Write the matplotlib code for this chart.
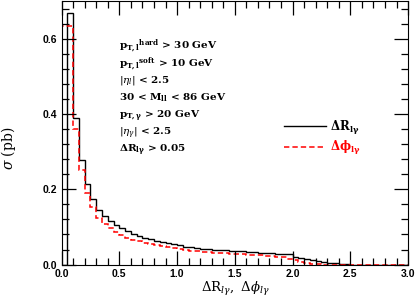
import numpy as np
import matplotlib
matplotlib.use("Agg")
import matplotlib.pyplot as plt
from matplotlib.ticker import MultipleLocator, FormatStrFormatter

bin_edges = np.round(np.arange(0.0, 3.0001, 0.05), 2)

dR_lgamma = [0.0, 0.669, 0.390, 0.278, 0.215, 0.175, 0.144, 0.128, 0.116, 0.106,
             0.097, 0.089, 0.082, 0.077, 0.072, 0.068, 0.064, 0.060, 0.057, 0.054,
             0.051, 0.048, 0.046, 0.044, 0.042, 0.041, 0.040, 0.039, 0.038, 0.037,
             0.036, 0.035, 0.034, 0.033, 0.032, 0.031, 0.030, 0.029, 0.028, 0.027,
             0.021, 0.018, 0.015, 0.012, 0.009, 0.007, 0.005, 0.003, 0.002, 0.001,
             0.0, 0.0, 0.0, 0.0, 0.0, 0.0, 0.0, 0.0, 0.0, 0.0]

dphi_lgamma = [0.634, 0.634, 0.361, 0.252, 0.190, 0.152, 0.125, 0.108, 0.096, 0.086,
               0.078, 0.071, 0.066, 0.062, 0.058, 0.055, 0.052, 0.049, 0.046, 0.044,
               0.041, 0.039, 0.037, 0.036, 0.034, 0.033, 0.032, 0.031, 0.030, 0.029,
               0.028, 0.027, 0.026, 0.025, 0.025, 0.024, 0.023, 0.021, 0.019, 0.016,
               0.011, 0.007, 0.004, 0.002, 0.001, 0.0, 0.0, 0.0, 0.0, 0.0,
               0.0, 0.0, 0.0, 0.0, 0.0, 0.0, 0.0, 0.0, 0.0, 0.0]

cut_lines = [r"$\mathbf{p_{T,l}}^{\mathbf{hard}}$ > 30 GeV",
             r"$\mathbf{p_{T,l}}^{\mathbf{soft}}$ > 10 GeV",
             r"$|\eta_l|$ < 2.5",
             r"30 < $\mathbf{M_{ll}}$ < 86 GeV",
             r"$\mathbf{p_{T,\gamma}}$ > 20 GeV",
             r"$|\eta_\gamma|$ < 2.5",
             r"$\mathbf{\Delta R_{l\gamma}}$ > 0.05"]

plt.rcParams['mathtext.fontset'] = 'dejavuserif'
fig = plt.figure(figsize=(4.16, 3.0), dpi=100)
ax = fig.add_axes([0.148, 0.118, 0.833, 0.878])

ax.stairs(dR_lgamma, bin_edges, color='black', linewidth=1.0,
          label=r'$\mathbf{\Delta R_{l\gamma}}$')
ax.stairs(dphi_lgamma, bin_edges, color='red', linewidth=1.1,
          linestyle=(0, (3.5, 2)), label=r'$\mathbf{\Delta \phi_{l\gamma}}$')

ax.set_xlim(0, 3.0)
ax.set_ylim(0, 0.7)
ax.xaxis.set_major_locator(MultipleLocator(0.5))
ax.xaxis.set_minor_locator(MultipleLocator(0.1))
ax.yaxis.set_major_locator(MultipleLocator(0.2))
ax.yaxis.set_minor_locator(MultipleLocator(0.04))
ax.xaxis.set_major_formatter(FormatStrFormatter('%.1f'))
ax.yaxis.set_major_formatter(FormatStrFormatter('%.1f'))
ax.tick_params(which='both', direction='in', top=True, right=True, width=0.9)
ax.tick_params(which='major', length=10, labelsize=7.5, pad=3)
ax.tick_params(which='minor', length=5)
for lab in ax.get_xticklabels() + ax.get_yticklabels():
    lab.set_fontweight('bold')
    lab.set_family('Liberation Sans')

ax.set_xlabel(r'$\Delta \mathrm{R}_{l\gamma},\ \Delta\phi_{l\gamma}$', fontsize=9.5, labelpad=1)
ax.set_ylabel(r'$\sigma$ (pb)', fontsize=10, family='DejaVu Serif')
ax.yaxis.set_label_coords(-0.125, 0.44)

for i, line in enumerate(cut_lines):
    ax.text(0.165, 0.83 - i * 0.066, line, transform=ax.transAxes,
            fontsize=7.5, family='DejaVu Serif', fontweight='bold', va='center')

leg = ax.legend(loc='upper left', bbox_to_anchor=(0.61, 0.595), frameon=False,
                handlelength=3.6, fontsize=8.5, labelspacing=0.2, handletextpad=0.3)
leg.get_texts()[0].set_color('black')
leg.get_texts()[1].set_color('red')

fig.savefig('out.png', dpi=100)
